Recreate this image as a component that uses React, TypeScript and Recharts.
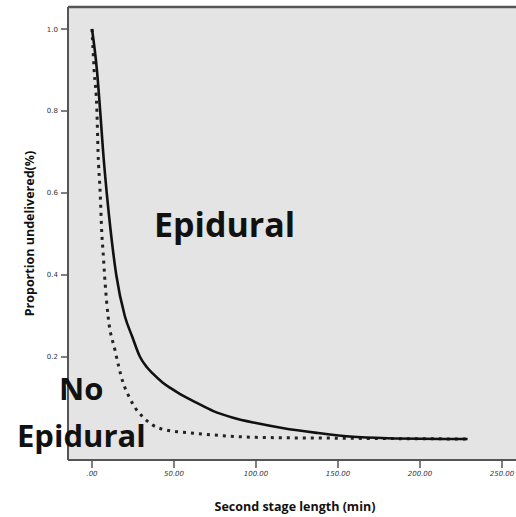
import React from 'react';
import { LineChart, Line, XAxis, YAxis, CartesianGrid, ReferenceLine } from 'recharts';

const epiduralMin = [0, 3, 5, 6.8, 9, 11.6, 14.8, 20, 24.5, 29.3, 33.5, 37, 43, 48, 54, 64, 74, 86, 100, 116, 137, 157, 180, 229];
const epiduralVal = [1.0, 0.9, 0.8, 0.7, 0.6, 0.5, 0.4, 0.3, 0.25, 0.2, 0.175, 0.16, 0.138, 0.124, 0.109, 0.088, 0.068, 0.052, 0.039, 0.027, 0.015, 0.006, 0.002, 0.0];
const noEpiduralMin = [0, 1.3, 3, 3.7, 5, 6, 6.7, 8, 9.8, 14, 19, 23, 26, 31, 37, 45, 60, 80, 100, 150, 229];
const noEpiduralVal = [1.0, 0.9, 0.8, 0.7, 0.6, 0.5, 0.46, 0.38, 0.3, 0.217, 0.137, 0.1, 0.078, 0.054, 0.034, 0.022, 0.015, 0.008, 0.004, 0.002, 0.0];

const xTicks = [0, 50, 100, 150, 200, 250];
const yTicks = [0.2, 0.4, 0.6, 0.8, 1.0];
const X_DOMAIN: [number, number] = [-14.63, 267.07];
const Y_DOMAIN: [number, number] = [-0.0512, 1.0537];

const epiduralData = epiduralMin.map((m, i) => ({ m, v: epiduralVal[i] }));
const noEpiduralData = noEpiduralMin.map((m, i) => ({ m, v: noEpiduralVal[i] }));

const frame = '#555555';

export default function App() {
  return (
    <div style={{ position: 'absolute', left: 0, top: 0, width: 516, height: 517, overflow: 'hidden', background: '#fff' }}>
      <LineChart width={530} height={517} margin={{ top: 7, right: 0, left: 0, bottom: 0 }}>
        <CartesianGrid horizontal={false} vertical={false} fill="#e4e4e4" />
        <XAxis
          type="number"
          dataKey="m"
          domain={X_DOMAIN}
          ticks={xTicks}
          allowDataOverflow
          height={57}
          tickFormatter={(v: number) => (v === 0 ? '.00' : v.toFixed(2))}
          tick={{ fontSize: 7, fill: '#333', fontFamily: 'DejaVu Sans', fontStyle: 'italic' }}
          tickSize={8}
          tickMargin={3}
          axisLine={{ stroke: frame, strokeWidth: 2 }}
          tickLine={{ stroke: frame, strokeWidth: 1.5 }}
          label={{ value: 'Second stage length (min)', position: 'insideBottom', offset: 6, dx: -4, style: { fontSize: 12.5, fontWeight: 700, fill: '#111', fontFamily: 'Open Sans' } }}
        />
        <YAxis
          type="number"
          dataKey="v"
          domain={Y_DOMAIN}
          ticks={yTicks}
          allowDataOverflow
          width={68}
          tickFormatter={(v: number) => v.toFixed(1)}
          tick={{ fontSize: 7, fill: '#333', fontFamily: 'DejaVu Sans' }}
          tickSize={7}
          tickMargin={3}
          axisLine={{ stroke: frame, strokeWidth: 2 }}
          tickLine={{ stroke: frame, strokeWidth: 1.5 }}
          label={{ value: 'Proportion undelivered(%)', angle: -90, position: 'center', dx: -4, style: { fontSize: 12.5, fontWeight: 700, fill: '#111', fontFamily: 'Open Sans', textAnchor: 'middle' } }}
        />
        <ReferenceLine y={Y_DOMAIN[1]} stroke={frame} strokeWidth={2.5} />
        <Line data={noEpiduralData} dataKey="v" type="monotone" stroke="#222" strokeWidth={3} strokeDasharray="3 5" dot={false} isAnimationActive={false} />
        <Line data={epiduralData} dataKey="v" type="monotone" stroke="#111" strokeWidth={2.6} dot={false} isAnimationActive={false} />
      </LineChart>
      <svg width={516} height={517} style={{ position: 'absolute', left: 0, top: 0, pointerEvents: 'none' }}>
        <g fontFamily="Open Sans" fontWeight={700} fill="#111">
          <text x={154} y={237} fontSize={34}>Epidural</text>
          <text x={59} y={400} fontSize={31}>No</text>
          <text x={17} y={447} fontSize={31}>Epidural</text>
        </g>
      </svg>
    </div>
  );
}
